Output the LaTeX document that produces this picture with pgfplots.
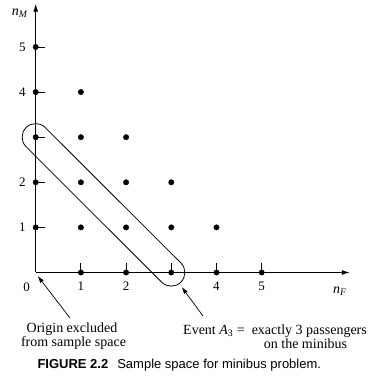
\documentclass[border=0pt]{standalone}
\usepackage{pgfplots}
\pgfplotsset{compat=1.18}
\usepackage{fontspec}
\setmainfont{Liberation Serif}
\newfontfamily\capfont{Liberation Sans}
\usetikzlibrary{arrows.meta}
\begin{document}
\begin{tikzpicture}
\useasboundingbox (-35.7pt,-106.5pt) rectangle (344.3pt,272.5pt);
\begin{axis}[
  anchor=origin, at={(0pt,0pt)},
  x=45.2pt, y=45.1pt,
  xmin=0, xmax=6.95, ymin=0, ymax=5.96,
  axis lines=middle,
  axis line style={line width=1.1pt, -{Latex[length=8pt,width=5pt]}},
  xtick={1,2,3,4,5}, ytick={1,2,3,4,5},
  xticklabels={1,2,,4,5}, yticklabels={1,2,,4,5},
  major tick length=9pt,
  every tick/.style={black, line width=0.8pt},
  xtick style={yshift=4.5pt},
  ytick style={xshift=4.5pt},
  /pgf/number format/assume math mode=true,
  xticklabel style={font=\fontsize{13}{14}\selectfont, yshift=-1pt},
  yticklabel style={font=\fontsize{13}{14}\selectfont, xshift=-2pt},
  clip=false,
]
\addplot[only marks, mark=*, mark size=2.7pt, black] coordinates {
  (1,0) (2,0) (3,0) (4,0) (5,0)
  (0,1) (0,2) (0,3) (0,4) (0,5)
  (1,1) (1,2) (1,3) (1,4)
  (2,1) (2,2) (2,3)
  (3,1) (3,2)
  (4,1)
};
\draw[line width=0.8pt] (axis cs:0.212,3.212) -- (axis cs:3.212,0.212)
  arc[start angle=45, end angle=-135, radius=13.6pt]
  -- (axis cs:-0.212,2.788)
  arc[start angle=225, end angle=45, radius=13.6pt];
\node[font=\fontsize{13}{14}\selectfont] at (axis cs:-0.2,-0.33) {0};
\node[font=\fontsize{14}{15}\selectfont] at (axis cs:6.73,-0.41) {\textit{n}\textsubscript{\textit{F}}};
\node[font=\fontsize{14}{15}\selectfont] at (axis cs:-0.35,5.74) {\textit{n}\textsubscript{\textit{M}}};
\end{axis}
\draw[line width=0.7pt, -{Latex[length=7pt,width=4.5pt]}] (34.3pt,-45.5pt) -- (2pt,-3.5pt);
\draw[line width=0.7pt, -{Latex[length=7pt,width=4.5pt]}] (167.3pt,-43.5pt) -- (146pt,-14.5pt);
\node[font=\fontsize{14}{15}\selectfont] at (36.3pt,-56.5pt) {Origin excluded};
\node[font=\fontsize{14}{15}\selectfont] at (37.8pt,-70.5pt) {from sample space};
\node[font=\fontsize{14}{15}\selectfont, anchor=west, inner sep=0pt] at (147.3pt,-58.5pt) {Event \textit{A}\textsubscript{3} =\ \ exactly 3 passengers};
\node[font=\fontsize{14}{15}\selectfont] at (269.8pt,-71.5pt) {on the minibus};
\node[font=\capfont\fontsize{13}{14}\selectfont, anchor=west, inner sep=0pt] at (1.6pt,-92.5pt) {\textbf{FIGURE 2.2}\hspace{9pt}Sample space for minibus problem.};
\end{tikzpicture}
\end{document}
